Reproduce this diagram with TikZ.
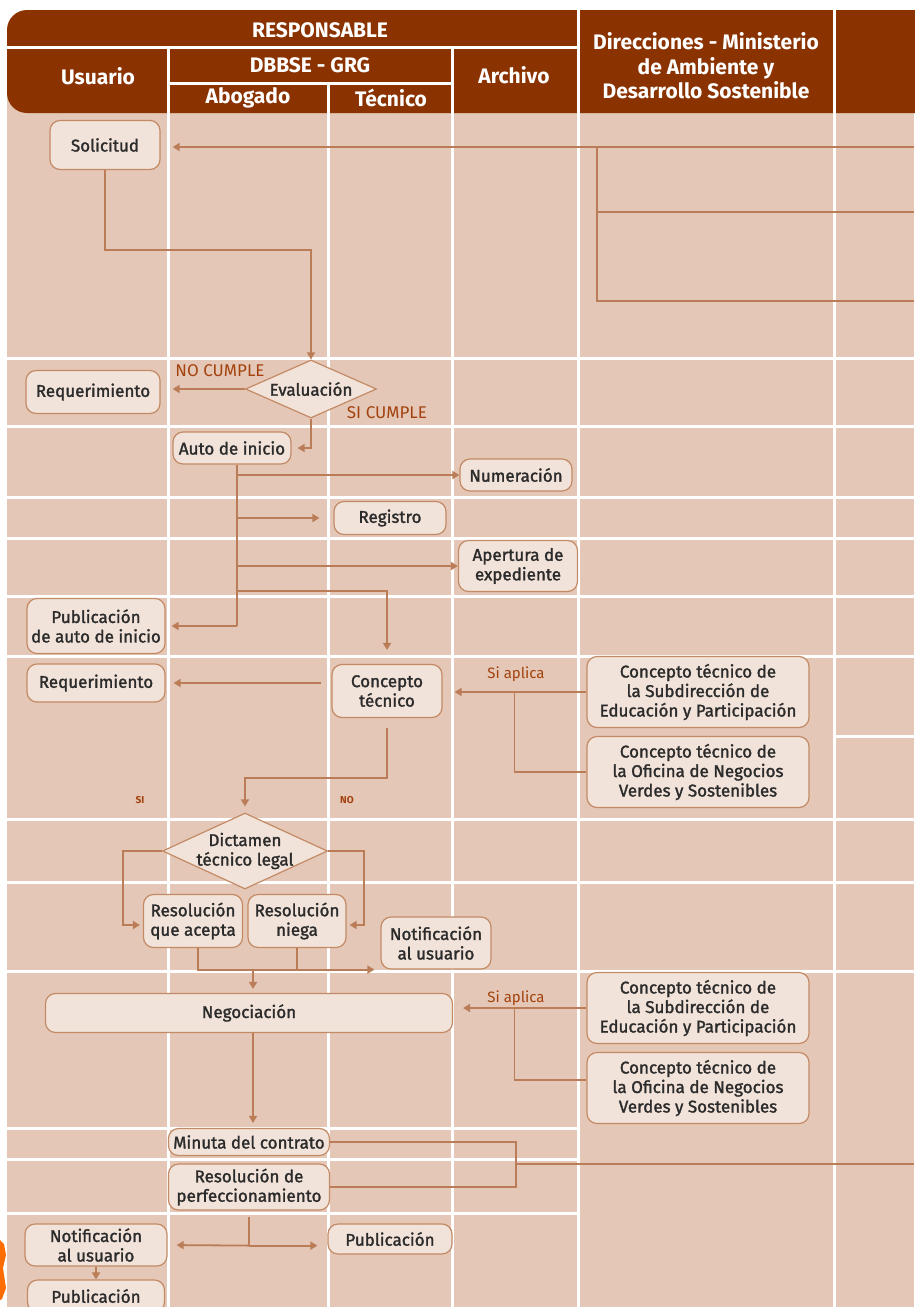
\documentclass[tikz,border=0pt]{standalone}
\usepackage{fontspec}
\setmainfont{Fira Sans}
\newfontfamily\stepfont{Fira Sans}[FakeBold=1.6]
\usetikzlibrary{arrows.meta,calc,shapes.geometric,positioning}
\definecolor{HeadBrown}{HTML}{8A3300}
\definecolor{CellPeach}{HTML}{E4C7B6}
\definecolor{BoxFill}{HTML}{F2E3DA}
\definecolor{BoxLine}{HTML}{C38A66}
\definecolor{FlowBrown}{HTML}{BA7D58}
\definecolor{TagBrown}{HTML}{A3420E}
\definecolor{InkGray}{HTML}{2B2B2B}
\tikzset{
    block/.style = {draw=BoxLine, fill=BoxFill, rectangle, rounded corners=10pt,
        line width=1.2pt, inner sep=1pt, align=center, text=InkGray,
        font=\stepfont\fontsize{17}{19.5}\selectfont},
    decision/.style = {draw=BoxLine, fill=BoxFill, diamond, inner sep=-1pt,
        line width=1.2pt, align=center, text=InkGray,
        font=\stepfont\fontsize{17}{19.5}\selectfont},
    wh/.style 2 args = {minimum width=#1pt, minimum height=#2pt},
    arrow/.style = {draw=FlowBrown, line width=1.8pt, -{Triangle[width=8pt,length=7pt]}},
    link/.style = {draw=FlowBrown, line width=1.8pt},
    tag/.style = {text=TagBrown, font=\fontsize{15}{17}\selectfont},
    yesno/.style = {text=TagBrown, font=\bfseries\fontsize{10}{12}\selectfont},
    heading/.style = {text=white, align=center, font=\bfseries\fontsize{21}{24.5}\selectfont},
    gridline/.style = {draw=white, line width=3pt}
}

\begin{document}
\begin{tikzpicture}[x=1pt,y=-1pt]
  \useasboundingbox (0,0) rectangle (914,1307);
  % lanes
  \fill[CellPeach] (7,95) rectangle (914,1307);
  \fill[HeadBrown, rounded corners=20pt] (7,10) rectangle (940,113);
  \draw[gridline] (7,47) -- (578,47);
  \draw[gridline] (168,83) -- (452,83);
  \foreach \x/\y in {168/47,328/83,452/47,578/10,834/10}
    \draw[gridline] (\x,\y) -- (\x,1307);
  \foreach \y in {358,426,497,538,596,656,819,882,971}
    \draw[gridline] (7,\y) -- (914,\y);
  \foreach \y in {1128,1159,1213}
    \draw[gridline] (7,\y) -- (578,\y);
  \draw[gridline] (834,736) -- (914,736);
  \fill[orange!85!red] (0,1240) -- (4,1244) -- (6,1255) -- (3,1268) -- (6,1288) -- (2,1299) -- (0,1300) -- cycle;

  % header
  \node[heading] (resp) at (320,30) {RESPONSABLE};
  \node[heading] (usu) at (98,76) {Usuario};
  \node[heading] (dbb) at (310,65) {DBBSE - GRG};
  \node[heading] (abo) at (248,98) {Abogado};
  \node[heading] (tec) at (391,98) {Técnico};
  \node[heading] (arc) at (514,75) {Archivo};
  \node[heading] (dir) at (706,66) {Direcciones - Ministerio\\de Ambiente y\\Desarrollo Sostenible};

  % steps
  \node[block, wh={110}{49}] (sol) at (105,145) {Solicitud};
  \node[decision, wh={131}{58}, aspect=2.26] (eval) at (311,389) {Evaluación};
  \node[block, wh={134}{43}] (req1) at (93,392) {Requerimiento};
  \node[block, wh={118}{32}] (auto) at (232,448) {Auto de inicio};
  \node[block, wh={112}{32}] (num) at (516,475) {Numeración};
  \node[block, wh={112}{33}] (reg) at (390,518) {Registro};
  \node[block, wh={119}{51}] (aper) at (518,566) {Apertura de\\expediente};
  \node[block, wh={138}{55}] (pub1) at (96,626) {Publicación\\de auto de inicio};
  \node[block, wh={110}{53}] (ct) at (387,691) {Concepto\\técnico};
  \node[block, wh={138}{38}] (req2) at (96,683) {Requerimiento};
  \node[block, wh={222}{71}] (sub1) at (698,692) {Concepto técnico de\\la Subdirección de\\Educación y Participación};
  \node[block, wh={222}{71}] (ofi1) at (698,772) {Concepto técnico de\\la Oficina de Negocios\\Verdes y Sostenibles};
  \node[decision, wh={165}{76}, aspect=2.17, inner sep=-3pt] (dict) at (245,851) {Dictamen\\técnico legal};
  \node[block, wh={99}{53}] (racep) at (193,921) {Resolución\\que acepta};
  \node[block, wh={98}{53}] (rnieg) at (297,921) {Resolución\\niega};
  \node[block, wh={110}{52}] (not1) at (436,943) {Notificación\\al usuario};
  \node[block, wh={407}{39}] (neg) at (249,1013) {Negociación};
  \node[block, wh={222}{71}] (sub2) at (698,1008) {Concepto técnico de\\la Subdirección de\\Educación y Participación};
  \node[block, wh={222}{71}] (ofi2) at (698,1088) {Concepto técnico de\\la Oficina de Negocios\\Verdes y Sostenibles};
  \node[block, wh={161}{27}] (min) at (249,1142) {Minuta del contrato};
  \node[block, wh={161}{46}] (rper) at (249,1187) {Resolución de\\perfeccionamiento};
  \node[block, wh={142}{42}] (not2) at (96,1245) {Notificación\\al usuario};
  \node[block, wh={124}{30}] (pub2) at (390,1239) {Publicación};
  \node[block, wh={137}{32}] (pub3) at (96,1296) {Publicación};

  % labels
  \node[tag, font=\fontsize{17}{19}\selectfont] (nocum) at (220,371) {NO CUMPLE};
  \node[tag, font=\fontsize{17}{19}\selectfont] (sicum) at (387,413) {SI CUMPLE};
  \node[tag] (apl1) at (516,674) {Si aplica};
  \node[tag] (apl2) at (516,998) {Si aplica};
  \node[yesno] (si) at (140,800) {SI};
  \node[yesno] (no) at (347,800) {NO};

  % connectors
  \coordinate (in1) at (914,147);
  \coordinate (in2) at (914,212);
  \coordinate (in3) at (914,301);
  \coordinate (j1) at (597,147);
  \draw[arrow, shorten >=12pt] (in1) -- (in1 -| sol.east);
  \draw[link] (in3) -| (j1);
  \draw[link] (in2) -- (in2 -| j1);
  \draw[arrow] (sol.south) -- ++(0,80) -| (eval.north);
  \draw[arrow, shorten >=12pt] (eval.west) -- (eval.west -| req1.east);
  \draw[arrow, shorten >=6pt] (eval.south) |- (auto.east);

  \coordinate (trunk) at ([xshift=5pt]auto.south);
  \coordinate (b4) at (237,591);
  \draw[link] (trunk) -- (trunk |- pub1.east);
  \draw[arrow] (trunk |- num.west) -- (num.west);
  \draw[arrow, shorten >=14pt] (trunk |- reg.west) -- (reg.west);
  \draw[arrow] (trunk |- aper.west) -- (aper.west);
  \draw[arrow, shorten >=6pt] (trunk |- pub1.east) -- (pub1.east);
  \draw[arrow, shorten >=14pt] (b4) -| (ct.north);

  \draw[arrow, shorten <=10pt, shorten >=8pt] (req2.east -| ct.west) -- (req2.east);
  \coordinate (j2) at ($(sub1.west)!0.5!(ct.east)$);
  \draw[arrow, shorten >=12pt] (sub1.west) -- (sub1.west -| ct.east);
  \draw[link] (ofi1.west) -| (j2);
  \draw[arrow, shorten <=10pt, shorten >=6pt] (ct.south) -- ++(0,60) -| (dict.north);

  \draw[arrow, shorten >=3pt] (dict.west) -- ++(-39,0) |- ([yshift=-4pt]racep.west);
  \draw[arrow, shorten >=3pt] (dict.east) -- ++(36,0) |- ([yshift=-4pt]rnieg.east);
  \draw[arrow, shorten >=6pt] ([xshift=5pt]racep.south) |- (not1.south west);
  \draw[link] (rnieg.south) -- (rnieg.south |- not1.south west);
  \draw[arrow, shorten >=4pt] ([xshift=4pt]neg.north |- not1.south west) -- ([xshift=4pt]neg.north);

  \coordinate (j3) at (j2 |- sub2.west);
  \draw[arrow, shorten >=10pt] (sub2.west) -- (sub2.west -| neg.east);
  \draw[link] ([yshift=8pt]ofi2.west) -| (j3);
  \draw[arrow, shorten >=5pt] ([xshift=4pt]neg.south) -- ([xshift=4pt]min.north);

  \coordinate (j4) at (516,1164);
  \coordinate (out4) at (914,1164);
  \draw[link] (min.east) -| (j4) |- (rper.east);
  \draw[link] (j4) -- (out4);
  \draw[link, shorten <=6pt] (rper.south) -- ++(0,35) coordinate (j5);
  \draw[arrow, shorten >=9pt] (j5) -- (not2.east);
  \draw[arrow, shorten >=10pt] (j5) -- (j5 -| pub2.west);
  \draw[arrow] (not2.south) -- (pub3.north);
\end{tikzpicture}
\end{document}
